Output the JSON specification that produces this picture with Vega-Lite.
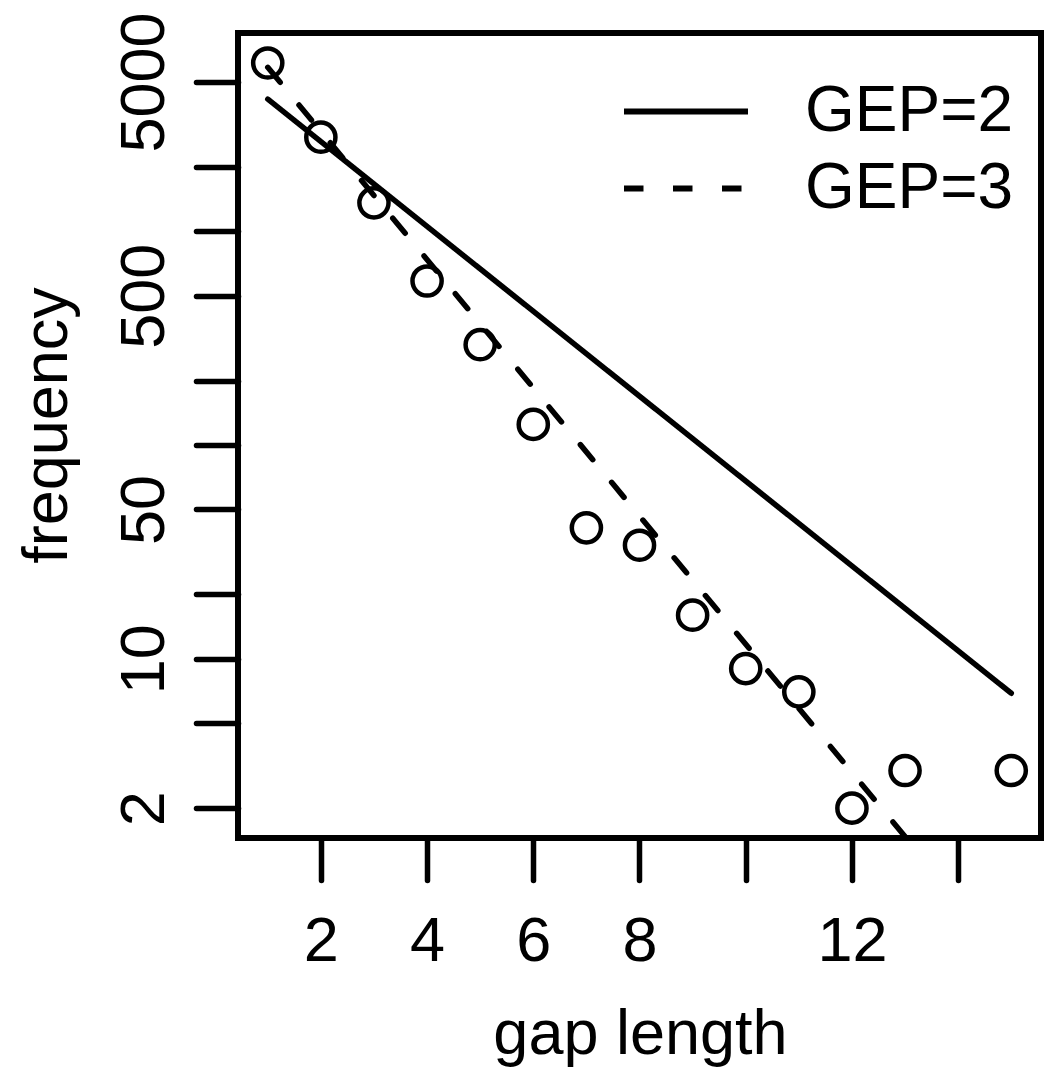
{
  "$schema": "https://vega.github.io/schema/vega-lite/v6.json",
  "width": 803,
  "height": 805,
  "autosize": {"type": "none"},
  "padding": {"left": 238, "top": 33, "right": 8, "bottom": 234},
  "background": "white",
  "datasets": {
    "obs": [
      {"gap": 1, "freq": 6140},
      {"gap": 2, "freq": 2760},
      {"gap": 3, "freq": 1360},
      {"gap": 4, "freq": 586},
      {"gap": 5, "freq": 295},
      {"gap": 6, "freq": 125},
      {"gap": 7, "freq": 41},
      {"gap": 8, "freq": 34},
      {"gap": 9, "freq": 16},
      {"gap": 10, "freq": 9},
      {"gap": 11, "freq": 7},
      {"gap": 12, "freq": 2},
      {"gap": 13, "freq": 3},
      {"gap": 15, "freq": 3}
    ],
    "fit": [
      {"model": "GEP=2", "gap": 1, "freq": 4160},
      {"model": "GEP=2", "gap": 15, "freq": 6.9},
      {"model": "GEP=3", "gap": 1, "freq": 5860},
      {"model": "GEP=3", "gap": 15, "freq": 0.37}
    ]
  },
  "layer": [
    {
      "data": {"name": "fit"},
      "mark": {"type": "line", "color": "black", "strokeWidth": 5.5, "strokeCap": "round", "clip": true},
      "encoding": {
        "x": {"field": "gap", "type": "quantitative"},
        "y": {"field": "freq", "type": "quantitative"},
        "strokeDash": {
          "field": "model",
          "type": "nominal",
          "scale": {"domain": ["GEP=2", "GEP=3"], "range": [[1, 0], [19.5, 29.5]]},
          "legend": {
            "title": null,
            "orient": "none",
            "legendX": 383,
            "legendY": 40,
            "padding": 0,
            "symbolType": "stroke",
            "symbolSize": 15376,
            "symbolStrokeWidth": 6,
            "symbolStrokeColor": "black",
            "labelFontSize": 64,
            "labelFont": "Liberation Sans",
            "labelColor": "black",
            "labelOffset": 54,
            "clipHeight": 77,
            "rowPadding": 0,
            "labelLimit": 400
          }
        }
      }
    },
    {
      "data": {"name": "obs"},
      "mark": {"type": "point", "shape": "circle", "filled": false, "stroke": "black", "strokeWidth": 4.5, "size": 850, "opacity": 1, "clip": true},
      "encoding": {
        "x": {
          "field": "gap",
          "type": "quantitative",
          "scale": {"domain": [0.44, 15.56], "nice": false, "zero": false},
          "axis": {
            "title": "gap length",
            "values": [2, 4, 6, 8, 10, 12, 14],
            "labelExpr": "(datum.value == 10 || datum.value == 14) ? '' : datum.label",
            "labelBaseline": "alphabetic",
            "labelPadding": 80,
            "titleX": 402,
            "titleY": 215,
            "titleBaseline": "alphabetic",
            "titleAlign": "center"
          }
        },
        "y": {
          "field": "freq",
          "type": "quantitative",
          "scale": {"type": "log", "domain": [1.45, 8480], "nice": false, "zero": false},
          "axis": {
            "title": "frequency",
            "values": [2, 5, 10, 20, 50, 100, 200, 500, 1000, 2000, 5000],
            "format": "d",
            "labelExpr": "indexof([2, 10, 50, 500, 5000], datum.value) >= 0 ? datum.label : ''",
            "labelAngle": -90,
            "labelAlign": "center",
            "labelBaseline": "alphabetic",
            "labelPadding": 33,
            "titleAngle": -90,
            "titleX": -172,
            "titleY": 392,
            "titleBaseline": "alphabetic",
            "titleAlign": "center"
          }
        }
      }
    }
  ],
  "config": {
    "view": {"stroke": "black", "strokeWidth": 6},
    "axis": {
      "domain": false,
      "grid": false,
      "ticks": true,
      "tickColor": "black",
      "tickWidth": 5.5,
      "tickSize": 42,
      "tickCap": "round",
      "labelFont": "Liberation Sans",
      "labelFontSize": 63,
      "labelColor": "black",
      "labelOverlap": false,
      "labelFlush": false,
      "titleFont": "Liberation Sans",
      "titleFontSize": 63,
      "titleFontWeight": "normal",
      "titleColor": "black"
    }
  }
}
